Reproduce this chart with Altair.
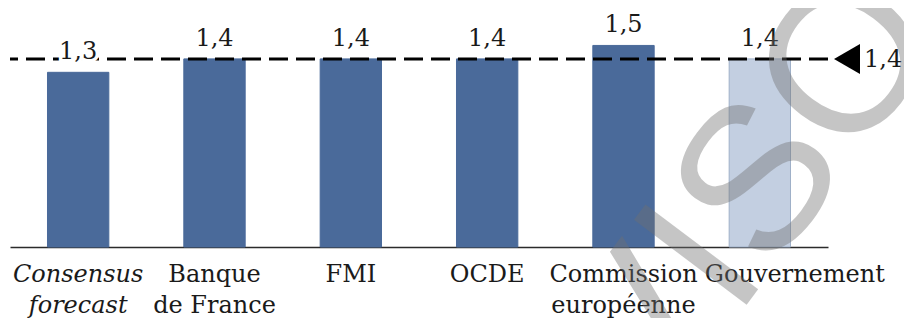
import altair as alt
import pandas as pd

categories = ["Consensus\nforecast", "Banque\nde France", "FMI", "OCDE",
              "Commission\neuropéenne", "Gouvernement"]
values = [1.3, 1.4, 1.4, 1.4, 1.5, 1.4]
kinds = ["prévision", "prévision", "prévision", "prévision", "prévision", "gouvernement"]
reference_value = [1.4]
watermark = ["PROVISOIRE"]

df = pd.DataFrame({"cat": categories, "val": values, "kind": kinds})
ref = pd.DataFrame({"ref": reference_value})
wm = pd.DataFrame({"w": watermark})

W, H = 818, 215
FONT = "DejaVu Serif"

xenc = alt.X("cat:N", sort=categories, title=None,
             scale=alt.Scale(paddingInner=0.55, paddingOuter=0.275),
             axis=alt.Axis(
                 labelAngle=0, ticks=False, domainColor="#2b2b2b", domainWidth=1.5,
                 labelFont=FONT, labelFontSize=24, labelColor="#1a1a1a",
                 labelPadding=15, labelLineHeight=31, labelBaseline="top",
                 labelLimit=400,
                 labelExpr="split(datum.label, '\\n')",
                 labelFontStyle={"condition": {"test": "indexof(datum.value, 'Consensus') == 0", "value": "italic"}, "value": "normal"},
                 labelOffset={"condition": {"test": "datum.value == 'Gouvernement'", "value": 35}, "value": 0},
             ))
yscale = alt.Scale(domain=[0, 1.6], nice=False)

base = alt.Chart(df)

bars = base.mark_bar(strokeWidth=1).encode(
    x=xenc,
    y=alt.Y("val:Q", scale=yscale, axis=None),
    color=alt.Color("kind:N", scale=alt.Scale(domain=["prévision", "gouvernement"],
                                              range=["#4a6a9a", "#c3cfe1"]), legend=None),
    stroke=alt.Stroke("kind:N", scale=alt.Scale(domain=["prévision", "gouvernement"],
                                                range=["#4a6a9a", "#9fb0c8"]), legend=None),
)

rule = alt.Chart(ref).mark_rule(color="black", strokeWidth=3, strokeDash=[19, 8]).encode(
    y=alt.Y("ref:Q", scale=yscale)
)

label_common = dict(font=FONT, fontSize=24, baseline="alphabetic", align="center", dy=-13)
halo = base.transform_calculate(
    lab="replace(format(datum.val, '.1f'), '.', ',')"
).mark_text(color="white", stroke="white", strokeWidth=7, **label_common).encode(
    x=alt.X("cat:N", sort=categories), y=alt.Y("val:Q", scale=yscale), text="lab:N"
)
labels = base.transform_calculate(
    lab="replace(format(datum.val, '.1f'), '.', ',')"
).mark_text(color="#1a1a1a", **label_common).encode(
    x=alt.X("cat:N", sort=categories), y=alt.Y("val:Q", scale=yscale), text="lab:N"
)

tri = alt.Chart(ref).mark_point(shape="triangle-left", filled=True, color="black",
                                size=900, opacity=1).encode(
    x=alt.value(W + 19), y=alt.Y("ref:Q", scale=yscale)
)
ref_label = alt.Chart(ref).transform_calculate(
    lab="replace(format(datum.ref, '.1f'), '.', ',')"
).mark_text(font=FONT, fontSize=24, align="left", baseline="middle", color="#1a1a1a", dy=1).encode(
    x=alt.value(W + 36), y=alt.Y("ref:Q", scale=yscale), text="lab:N"
)

wmark = alt.Chart(wm).mark_text(font="Liberation Sans", fontSize=205, angle=307,
                                align="center", baseline="middle",
                                color="#707070", opacity=0.4).encode(
    x=alt.value(710), y=alt.value(205), text="w:N"
)

chart = alt.layer(bars, rule, halo, labels, tri, ref_label, wmark).resolve_scale(
    color="independent", stroke="independent"
).properties(
    width=W, height=H,
    autosize=alt.AutoSizeParams(type="none"),
    padding={"left": 2, "top": 24, "right": 76, "bottom": 71},
).configure_view(stroke=None)

chart.save("out.html", embed_options={"renderer": "svg", "actions": False})
